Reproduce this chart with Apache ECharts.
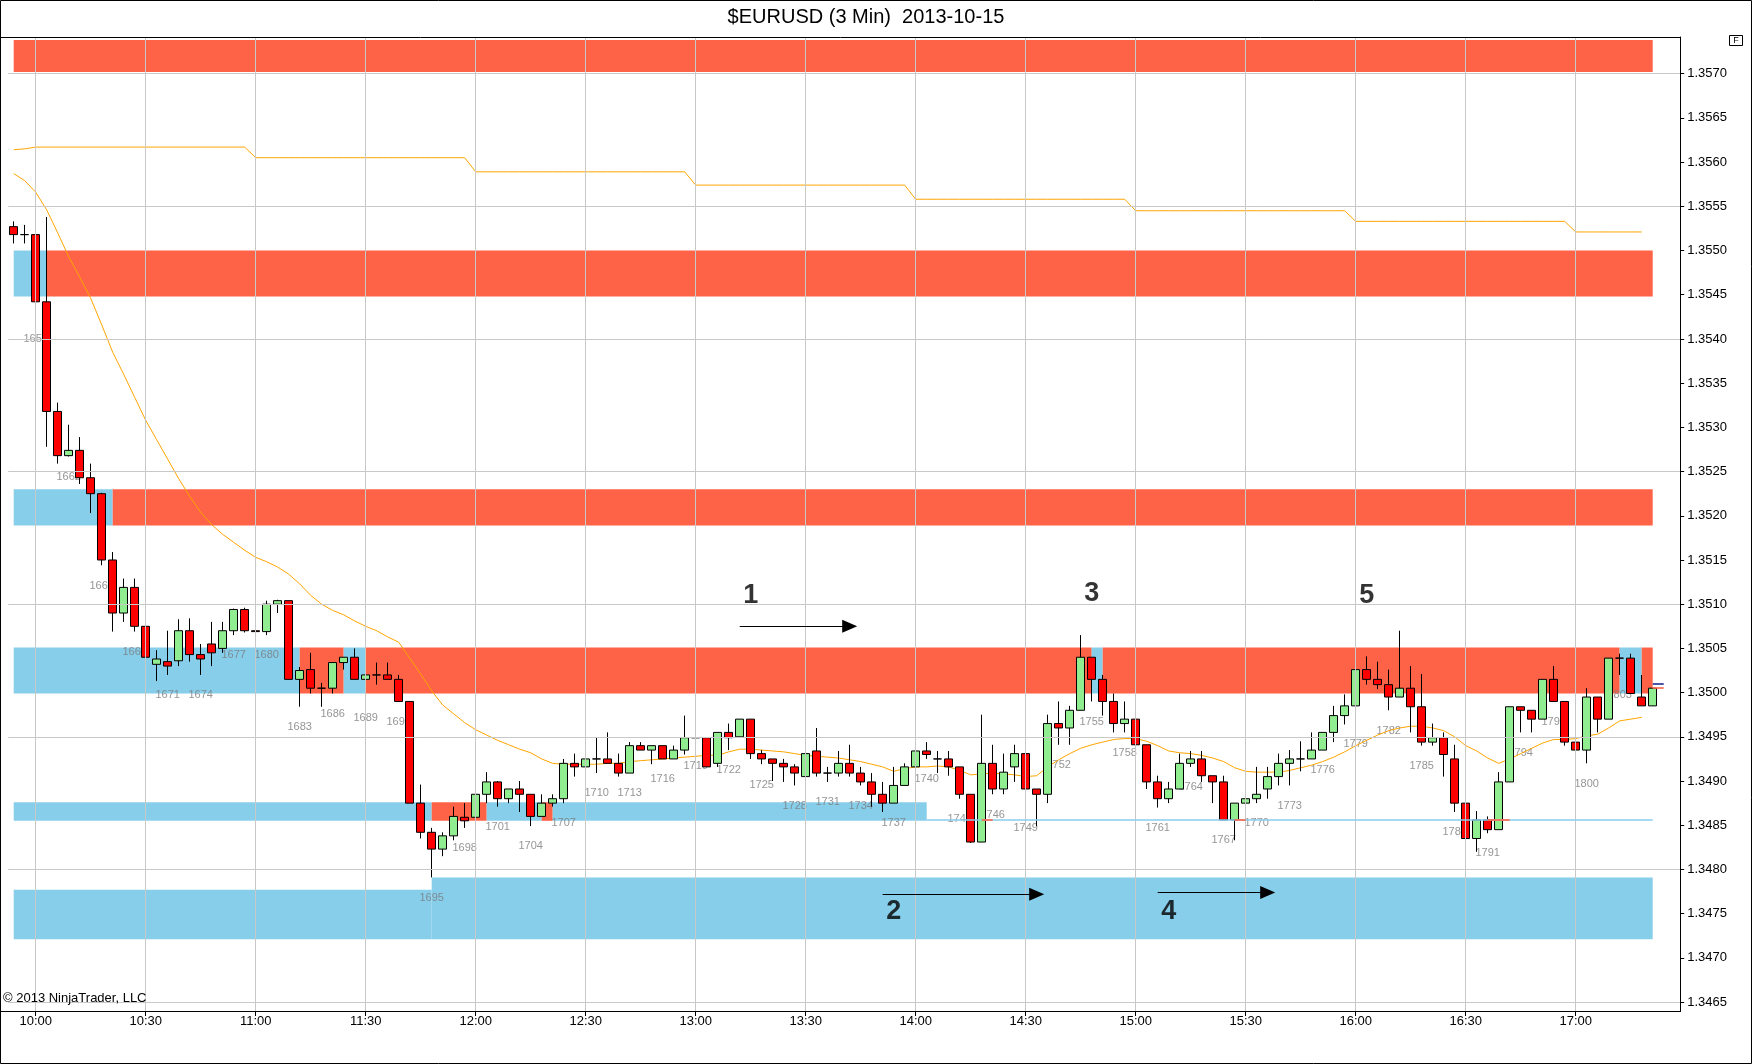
<!DOCTYPE html>
<html>
<head>
<meta charset="utf-8">
<script src="https://cdn.jsdelivr.net/npm/echarts@6/dist/echarts.min.js"></script>
<style>html,body{margin:0;padding:0;background:#fff}#c{width:1752px;height:1064px}</style>
</head>
<body>
<div id="c"></div>
<script>
// ---------- DATA ----------
const chartTitle = '$EURUSD (3 Min)  2013-10-15';
const copyrightText = '\u00A9 2013 NinjaTrader, LLC';
const firstBarNumber = 1657;

const times = [
"09:54","09:57",
"10:00","10:03","10:06","10:09","10:12","10:15","10:18","10:21","10:24","10:27","10:30","10:33","10:36","10:39","10:42","10:45","10:48","10:51","10:54","10:57",
"11:00","11:03","11:06","11:09","11:12","11:15","11:18","11:21","11:24","11:27","11:30","11:33","11:36","11:39","11:42","11:45","11:48","11:51","11:54","11:57",
"12:00","12:03","12:06","12:09","12:12","12:15","12:18","12:21","12:24","12:27","12:30","12:33","12:36","12:39","12:42","12:45","12:48","12:51","12:54","12:57",
"13:00","13:03","13:06","13:09","13:12","13:15","13:18","13:21","13:24","13:27","13:30","13:33","13:36","13:39","13:42","13:45","13:48","13:51","13:54","13:57",
"14:00","14:03","14:06","14:09","14:12","14:15","14:18","14:21","14:24","14:27","14:30","14:33","14:36","14:39","14:42","14:45","14:48","14:51","14:54","14:57",
"15:00","15:03","15:06","15:09","15:12","15:15","15:18","15:21","15:24","15:27","15:30","15:33","15:36","15:39","15:42","15:45","15:48","15:51","15:54","15:57",
"16:00","16:03","16:06","16:09","16:12","16:15","16:18","16:21","16:24","16:27","16:30","16:33","16:36","16:39","16:42","16:45","16:48","16:51","16:54","16:57",
"17:00","17:03","17:06","17:09","17:12","17:15","17:18","17:21","17:24","17:27"];

const timeTicks = ["10:00","10:30","11:00","11:30","12:00","12:30","13:00","13:30","14:00","14:30","15:00","15:30","16:00","16:30","17:00"];
const priceTicks = [1.3465,1.3470,1.3475,1.3480,1.3485,1.3490,1.3495,1.3500,1.3505,1.3510,1.3515,1.3520,1.3525,1.3530,1.3535,1.3540,1.3545,1.3550,1.3555,1.3560,1.3565,1.3570];
const gridPrices = [1.3465,1.3480,1.3495,1.3510,1.3525,1.3540,1.3555,1.3570];

const open = [
1.35527,1.35518,1.35518,1.35442,1.35318,1.35268,1.35274,1.35243,1.35225,1.35150,
1.35090,1.35119,1.35075,1.35032,1.35035,1.35036,1.35070,1.35043,1.35055,1.35050,
1.35070,1.35094,1.35070,1.35069,1.35100,1.35104,1.35015,1.35026,1.35005,1.35005,
1.35034,1.35040,1.35015,1.35020,1.35020,1.35015,1.34990,1.34875,1.34842,1.34823,
1.34838,1.34859,1.34859,1.34885,1.34899,1.34880,1.34891,1.34885,1.34860,1.34875,
1.34880,1.34920,1.34916,1.34925,1.34925,1.34920,1.34909,1.34940,1.34935,1.34940,
1.34925,1.34935,1.34949,1.34949,1.34920,1.34955,1.34950,1.34970,1.34931,1.34925,
1.34920,1.34916,1.34905,1.34934,1.34909,1.34909,1.34920,1.34909,1.34899,1.34885,
1.34875,1.34895,1.34916,1.34934,1.34925,1.34925,1.34916,1.34885,1.34831,1.34920,
1.34891,1.34916,1.34931,1.34891,1.34885,1.34965,1.34960,1.34980,1.35040,1.35015,
1.34990,1.34965,1.34970,1.34941,1.34899,1.34880,1.34891,1.34920,1.34925,1.34906,
1.34899,1.34856,1.34875,1.34880,1.34891,1.34905,1.34920,1.34925,1.34925,1.34935,
1.34955,1.34974,1.34985,1.35026,1.35015,1.35009,1.34995,1.35005,1.34984,1.34944,
1.34949,1.34925,1.34875,1.34835,1.34856,1.34845,1.34899,1.34984,1.34980,1.34970,
1.35015,1.34990,1.34944,1.34935,1.34995,1.34970,1.35039,1.35039,1.34995,1.34985];

const close = [
1.35518,1.35518,1.35442,1.35318,1.35268,1.35274,1.35243,1.35225,1.35150,1.35090,
1.35119,1.35075,1.35040,1.35038,1.35030,1.35070,1.35043,1.35038,1.35045,1.35070,
1.35094,1.35070,1.35069,1.35100,1.35104,1.35015,1.35025,1.35005,1.35005,1.35034,
1.35040,1.35015,1.35020,1.35020,1.35015,1.34990,1.34875,1.34842,1.34823,1.34838,
1.34860,1.34855,1.34885,1.34899,1.34880,1.34891,1.34885,1.34860,1.34875,1.34880,
1.34920,1.34916,1.34925,1.34925,1.34920,1.34909,1.34940,1.34935,1.34940,1.34925,
1.34935,1.34949,1.34949,1.34916,1.34955,1.34949,1.34970,1.34931,1.34925,1.34920,
1.34916,1.34909,1.34931,1.34909,1.34909,1.34920,1.34909,1.34899,1.34885,1.34875,
1.34895,1.34916,1.34934,1.34930,1.34925,1.34916,1.34885,1.34831,1.34920,1.34891,
1.34910,1.34931,1.34891,1.34885,1.34965,1.34960,1.34980,1.35040,1.35015,1.34990,
1.34965,1.34970,1.34941,1.34899,1.34880,1.34891,1.34920,1.34925,1.34906,1.34899,
1.34856,1.34875,1.34880,1.34885,1.34905,1.34920,1.34925,1.34925,1.34935,1.34955,
1.34974,1.34985,1.35026,1.35015,1.35009,1.34995,1.35005,1.34984,1.34944,1.34949,
1.34930,1.34875,1.34835,1.34856,1.34845,1.34899,1.34984,1.34980,1.34970,1.35015,
1.34990,1.34944,1.34935,1.34995,1.34970,1.35039,1.35039,1.34999,1.34985,1.35005];

const low = [
1.35508,1.35508,1.35423,1.35278,1.35259,1.35267,1.35236,1.35203,1.35144,1.35069,
1.35080,1.35069,1.35035,1.35013,1.35020,1.35030,1.35035,1.35020,1.35030,1.35045,
1.35065,1.35068,1.35065,1.35065,1.35090,1.35015,1.34984,1.34999,1.34984,1.34999,
1.35026,1.35015,1.34994,1.35009,1.35015,1.34990,1.34875,1.34835,1.34791,1.34815,
1.34833,1.34847,1.34856,1.34875,1.34871,1.34875,1.34865,1.34849,1.34860,1.34871,
1.34875,1.34905,1.34916,1.34909,1.34920,1.34905,1.34909,1.34935,1.34919,1.34925,
1.34925,1.34930,1.34940,1.34916,1.34916,1.34935,1.34950,1.34925,1.34919,1.34900,
1.34899,1.34895,1.34899,1.34905,1.34899,1.34905,1.34905,1.34895,1.34871,1.34865,
1.34875,1.34895,1.34916,1.34925,1.34909,1.34906,1.34880,1.34830,1.34831,1.34885,
1.34885,1.34899,1.34870,1.34849,1.34875,1.34941,1.34941,1.34980,1.34990,1.34974,
1.34955,1.34955,1.34941,1.34891,1.34870,1.34875,1.34891,1.34916,1.34899,1.34875,
1.34856,1.34833,1.34875,1.34875,1.34880,1.34895,1.34895,1.34911,1.34925,1.34935,
1.34944,1.34964,1.34965,1.35009,1.35004,1.34980,1.34995,1.34955,1.34940,1.34940,
1.34905,1.34865,1.34830,1.34820,1.34841,1.34845,1.34899,1.34955,1.34955,1.34970,
1.34990,1.34940,1.34925,1.34920,1.34955,1.34970,1.35020,1.34999,1.34985,1.34985];

const high = [
1.35533,1.35529,1.35519,1.35538,1.35328,1.35303,1.35289,1.35259,1.35226,1.35159,
1.35129,1.35129,1.35084,1.35048,1.35070,1.35083,1.35084,1.35055,1.35080,1.35080,
1.35095,1.35096,1.35084,1.35104,1.35105,1.35104,1.35029,1.35045,1.35011,1.35034,
1.35040,1.35050,1.35020,1.35034,1.35034,1.35020,1.34990,1.34896,1.34847,1.34842,
1.34871,1.34875,1.34896,1.34910,1.34900,1.34891,1.34900,1.34885,1.34885,1.34885,
1.34925,1.34931,1.34949,1.34949,1.34955,1.34931,1.34944,1.34944,1.34940,1.34940,
1.34940,1.34974,1.34965,1.34949,1.34955,1.34965,1.34970,1.34970,1.34935,1.34925,
1.34925,1.34919,1.34936,1.34960,1.34916,1.34934,1.34941,1.34916,1.34909,1.34899,
1.34916,1.34920,1.34940,1.34944,1.34934,1.34934,1.34916,1.34885,1.34975,1.34941,
1.34931,1.34941,1.34931,1.34891,1.34975,1.34990,1.34985,1.35065,1.35040,1.35020,
1.34999,1.34990,1.34975,1.34941,1.34906,1.34899,1.34931,1.34934,1.34934,1.34906,
1.34906,1.34875,1.34900,1.34916,1.34916,1.34931,1.34935,1.34945,1.34955,1.34955,
1.34985,1.34998,1.35030,1.35041,1.35035,1.35026,1.35070,1.35030,1.35021,1.34965,
1.34955,1.34941,1.34896,1.34866,1.34860,1.34910,1.34984,1.34984,1.34980,1.35015,
1.35030,1.34990,1.34944,1.35005,1.34995,1.35039,1.35044,1.35044,1.35020,1.35005];

// moving average (lower orange curve)
const movingAvg = [
1.35587,1.35579,1.35566,1.35546,1.35520,1.35493,1.35470,1.35446,1.35416,1.35385,
1.35360,1.35334,1.35308,1.35286,1.35264,1.35242,1.35222,1.35204,1.35190,1.35179,
1.35170,1.35161,1.35153,1.35148,1.35142,1.35134,1.35123,1.35110,1.35100,1.35093,
1.35088,1.35081,1.35075,1.35070,1.35063,1.35057,1.35039,1.35021,1.35002,1.34986,
1.34976,1.34966,1.34958,1.34952,1.34946,1.34941,1.34936,1.34932,1.34925,1.34920,
1.34919,1.34919,1.34919,1.34919,1.34920,1.34920,1.34922,1.34923,1.34924,1.34925,
1.34926,1.34927,1.34928,1.34929,1.34929,1.34933,1.34936,1.34936,1.34935,1.34934,
1.34933,1.34931,1.34929,1.34928,1.34927,1.34926,1.34924,1.34922,1.34919,1.34916,
1.34911,1.34914,1.34916,1.34916,1.34917,1.34916,1.34912,1.34907,1.34908,1.34909,
1.34908,1.34907,1.34905,1.34906,1.34916,1.34924,1.34931,1.34937,1.34941,1.34944,
1.34947,1.34948,1.34948,1.34945,1.34940,1.34934,1.34932,1.34931,1.34929,1.34926,
1.34922,1.34915,1.34911,1.34910,1.34910,1.34910,1.34912,1.34915,1.34918,1.34922,
1.34927,1.34933,1.34940,1.34946,1.34952,1.34957,1.34960,1.34962,1.34962,1.34960,
1.34957,1.34950,1.34940,1.34934,1.34926,1.34920,1.34925,1.34931,1.34937,1.34943,
1.34947,1.34947,1.34948,1.34951,1.34953,1.34960,1.34968,1.34970,1.34972];

// hourly stepped level (upper orange line)
const stepLevel = [
1.35614,1.35615,
1.35617,1.35617,1.35617,1.35617,1.35617,1.35617,1.35617,1.35617,1.35617,1.35617,1.35617,1.35617,1.35617,1.35617,1.35617,1.35617,1.35617,1.35617,1.35617,1.35617,
1.35605,1.35605,1.35605,1.35605,1.35605,1.35605,1.35605,1.35605,1.35605,1.35605,1.35605,1.35605,1.35605,1.35605,1.35605,1.35605,1.35605,1.35605,1.35605,1.35605,
1.35589,1.35589,1.35589,1.35589,1.35589,1.35589,1.35589,1.35589,1.35589,1.35589,1.35589,1.35589,1.35589,1.35589,1.35589,1.35589,1.35589,1.35589,1.35589,1.35589,
1.35574,1.35574,1.35574,1.35574,1.35574,1.35574,1.35574,1.35574,1.35574,1.35574,1.35574,1.35574,1.35574,1.35574,1.35574,1.35574,1.35574,1.35574,1.35574,1.35574,
1.35558,1.35558,1.35558,1.35558,1.35558,1.35558,1.35558,1.35558,1.35558,1.35558,1.35558,1.35558,1.35558,1.35558,1.35558,1.35558,1.35558,1.35558,1.35558,1.35558,
1.35545,1.35545,1.35545,1.35545,1.35545,1.35545,1.35545,1.35545,1.35545,1.35545,1.35545,1.35545,1.35545,1.35545,1.35545,1.35545,1.35545,1.35545,1.35545,1.35545,
1.35533,1.35533,1.35533,1.35533,1.35533,1.35533,1.35533,1.35533,1.35533,1.35533,1.35533,1.35533,1.35533,1.35533,1.35533,1.35533,1.35533,1.35533,1.35533,1.35533,
1.35521,1.35521,1.35521,1.35521,1.35521,1.35521,1.35521];

// supply (R) / demand (S) zones
const zoneFrom = ['09:54','09:54','10:03','09:54','10:21','09:54','11:12','11:24','11:30','14:48','14:51','17:12','17:18','09:54','11:48','12:03','12:18','12:21','09:54','11:48'];
const zoneTo   = ['17:21','10:03','17:21','10:21','17:21','11:12','11:24','11:30','14:48','14:51','17:12','17:18','17:21','11:48','12:03','12:18','12:21','14:03','11:48','17:21'];
const zoneLow  = [1.35702,1.35448,1.35448,1.35189,1.35189,1.34999,1.34999,1.34999,1.34999,1.34999,1.34999,1.34999,1.34999,1.34855,1.34855,1.34855,1.34855,1.34855,1.34721,1.34721];
const zoneHigh = [1.35738,1.35500,1.35500,1.35230,1.35230,1.35051,1.35051,1.35051,1.35051,1.35051,1.35051,1.35051,1.35051,1.34876,1.34876,1.34876,1.34876,1.34876,1.34777,1.34791];
const zoneKind = ['R','S','R','S','R','S','R','S','R','S','R','S','R','S','R','S','R','S','S','S'];

// horizontal level lines
const levelFrom  = ['14:03','14:18','15:27','16:36','17:21','17:21'];
const levelTo    = ['17:21','14:21','15:30','16:42','17:24','17:24'];
const levelPrice = [1.34856,1.34856,1.34856,1.34856,1.35010,1.35005];
const levelKind  = ['S','R','R','R','N','R'];

// hand-drawn annotations
const noteText  = ['1','2','3','4','5'];
const noteTime  = ['13:15','13:54','14:48','15:09','16:03'];
const notePrice = [1.35110,1.34752,1.35112,1.34752,1.35110];
const arrowFrom  = ['13:12','13:51','15:06'];
const arrowTo    = ['13:42','14:33','15:36'];
const arrowPrice = [1.35075,1.34772,1.34774];

// ---------- CHART ----------
const FONT = '"Liberation Sans", Arial, Helvetica, sans-serif';
const kindColor = {R:'#FF6347', S:'#87CEEB', N:'#1F2A8C'};

const candleData = open.map((o,i)=>[o, close[i], low[i], high[i]]);
const barLabelData = [];
for (let i = 0; i < open.length - 1; i++) {
  const n = firstBarNumber + i;
  if (n % 3 === 0) barLabelData.push([times[i], low[i], n]);
}
const zoneAreas = zoneFrom.map((f,i)=>[
  {coord:[f, zoneHigh[i]], itemStyle:{color:kindColor[zoneKind[i]], opacity:1, borderWidth:0}},
  {coord:[zoneTo[i], zoneLow[i]]}
]);
const levelLines = levelFrom.map((f,i)=>[
  {coord:[f, levelPrice[i]], lineStyle:{color:kindColor[levelKind[i]], width:1.6, type:'solid'}},
  {coord:[levelTo[i], levelPrice[i]]}
]);
const gridLines = timeTicks.map(t=>({xAxis:t})).concat(gridPrices.map(p=>({yAxis:p})));
const arrows = arrowFrom.map((f,i)=>[{coord:[f, arrowPrice[i]]},{coord:[arrowTo[i], arrowPrice[i]]}]);
const noteData = noteText.map((t,i)=>[noteTime[i], notePrice[i], t]);

const chart = echarts.init(document.getElementById('c'), null, {renderer:'canvas', width:1752, height:1064});
const tickFilter = (idx, val) => timeTicks.indexOf(val) >= 0;

chart.setOption({
  animation:false,
  backgroundColor:'#ffffff',
  textStyle:{fontFamily:FONT},
  grid:{left:8.2, right:71.8, top:37, bottom:53, containLabel:false},
  xAxis:{
    type:'category', data:times, boundaryGap:true,
    axisLine:{show:true, lineStyle:{color:'#000', width:1}},
    axisTick:{show:true, alignWithLabel:true, interval:tickFilter, length:5, lineStyle:{color:'#000'}},
    axisLabel:{show:true, interval:tickFilter, color:'#000', fontSize:13, fontFamily:FONT, margin:4},
    splitLine:{show:false}
  },
  yAxis:{
    type:'value', position:'right', min:1.346399, max:1.357415, scale:true,
    axisLine:{show:true, onZero:false, lineStyle:{color:'#000', width:1}},
    axisTick:{show:true, length:4, customValues:priceTicks, lineStyle:{color:'#000'}},
    axisLabel:{show:true, customValues:priceTicks, formatter:v=>Number(v).toFixed(4), color:'#000', fontSize:13, fontFamily:FONT, margin:7},
    splitLine:{show:false}
  },
  series:[
    {name:'grid', type:'line', data:[], z:0, silent:true,
     markLine:{silent:true, animation:false, precision:6, symbol:['none','none'], label:{show:false},
       lineStyle:{color:'#C8C8C8', width:1, type:'solid'}, emphasis:{disabled:true}, data:gridLines}},
    {name:'zones', type:'line', data:[], z:1, silent:true,
     markArea:{silent:true, animation:false, label:{show:false}, emphasis:{disabled:true}, data:zoneAreas},
     markLine:{silent:true, animation:false, precision:6, symbol:['none','none'], label:{show:false}, emphasis:{disabled:true}, data:levelLines}},
    {name:'barNumbers', type:'scatter', data:barLabelData, z:2, silent:true, symbolSize:0.5,
     itemStyle:{color:'rgba(0,0,0,0)'},
     label:{show:true, position:'bottom', distance:14, formatter:p=>String(p.value[2]), color:'#7A7A7A', fontSize:11, fontFamily:FONT, lineHeight:12}},
    {name:'step', type:'line', data:stepLevel, z:3, silent:true, symbol:'none', lineStyle:{color:'#FFA500', width:1}},
    {name:'ma', type:'line', data:movingAvg, z:3, silent:true, symbol:'none', lineStyle:{color:'#FFA500', width:1}},
    {name:'EURUSD', type:'candlestick', data:candleData, z:4, barWidth:8,
     itemStyle:{color:'#90EE90', color0:'#FF0000', borderColor:'#000', borderColor0:'#000', borderColorDoji:'#000', borderWidth:1}},
    {name:'notes', type:'scatter', data:noteData, z:5, silent:true, symbolSize:0.5,
     itemStyle:{color:'rgba(0,0,0,0)'},
     label:{show:true, position:'inside', formatter:p=>p.value[2], color:'#000', fontSize:27, fontWeight:'bold', fontFamily:FONT},
     markLine:{silent:true, animation:false, precision:6, symbol:['none','triangle'], symbolSize:[13,15], label:{show:false},
       lineStyle:{color:'#000', width:1.2, type:'solid'}, itemStyle:{color:'#000'}, emphasis:{disabled:true}, data:arrows}}
  ],
  graphic:[
    {type:'text', x:866, y:17, z:100, style:{text:chartTitle, textAlign:'center', textVerticalAlign:'middle', font:'20px '+FONT, fill:'#000'}},
    {type:'text', x:3, y:998, z:100, style:{text:copyrightText, textAlign:'left', textVerticalAlign:'middle', font:'13px '+FONT, fill:'#000'}},
    {type:'rect', z:100, shape:{x:0.5, y:37.5, width:1680, height:974}, style:{fill:'none', stroke:'#000', lineWidth:1}},
    {type:'rect', z:100, shape:{x:1729.5, y:35.5, width:13, height:10}, style:{fill:'#fff', stroke:'#000', lineWidth:1}},
    {type:'text', x:1736, y:41, z:101, style:{text:'F', textAlign:'center', textVerticalAlign:'middle', font:'9px '+FONT, fill:'#000'}},
    {type:'rect', z:100, shape:{x:0.5, y:0.5, width:1751, height:1063}, style:{fill:'none', stroke:'#000', lineWidth:1}}
  ]
});
</script>
</body>
</html>
